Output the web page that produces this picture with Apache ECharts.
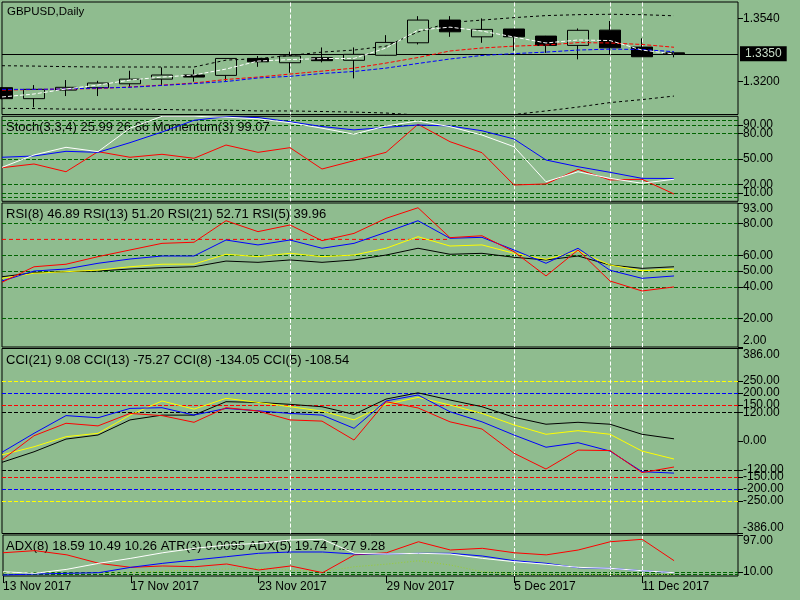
<!DOCTYPE html>
<html>
<head>
<meta charset="utf-8">
<script src="https://cdn.jsdelivr.net/npm/echarts@6/dist/echarts.min.js"></script>
<style>
html, body { margin: 0; padding: 0; background: #8FBC8F; }
#main { width: 800px; height: 600px; }
</style>
</head>
<body>
<div id="main"></div>
<script>
var dates = ['13 Nov 2017','14 Nov 2017','15 Nov 2017','16 Nov 2017','17 Nov 2017','20 Nov 2017',
    '21 Nov 2017','22 Nov 2017','23 Nov 2017','24 Nov 2017','27 Nov 2017','28 Nov 2017',
    '29 Nov 2017','30 Nov 2017','1 Dec 2017','4 Dec 2017','5 Dec 2017','6 Dec 2017',
    '7 Dec 2017','8 Dec 2017','11 Dec 2017','12 Dec 2017','13 Dec 2017','14 Dec 2017'];

// [open, close, low, high]
var candles = [
    [1.3168, 1.3109, 1.3106, 1.3170], [1.3109, 1.3159, 1.3063, 1.3182],
    [1.3155, 1.3170, 1.3123, 1.3209], [1.3168, 1.3193, 1.3123, 1.3205],
    [1.3189, 1.3214, 1.3170, 1.3259], [1.3214, 1.3236, 1.3177, 1.3277],
    [1.3236, 1.3225, 1.3200, 1.3266], [1.3234, 1.3325, 1.3205, 1.3326],
    [1.3325, 1.3307, 1.3280, 1.3338], [1.3302, 1.3338, 1.3248, 1.3361],
    [1.3329, 1.3313, 1.3304, 1.3384], [1.3315, 1.3347, 1.3218, 1.3384],
    [1.3342, 1.3411, 1.3341, 1.3450], [1.3409, 1.3531, 1.3400, 1.3552],
    [1.3531, 1.3468, 1.3441, 1.3552], [1.3441, 1.3481, 1.3409, 1.3540],
    [1.3483, 1.3441, 1.3366, 1.3484], [1.3445, 1.3395, 1.3355, 1.3446],
    [1.3395, 1.3476, 1.3320, 1.3486], [1.3477, 1.3382, 1.3348, 1.3526],
    [1.3386, 1.3334, 1.3333, 1.3433], [1.3355, 1.3350, 1.3331, 1.3357]
];
var bandUpper = [1.3286, 1.3284, 1.3281, 1.3279, 1.3279, 1.3279, 1.3279, 1.3316, 1.3324, 1.3341, 1.3359,
    1.3370, 1.3391, 1.3467, 1.3518, 1.3531, 1.3544, 1.3555, 1.3560, 1.3562, 1.3560, 1.3554];
var bandLower = [1.3057, 1.3056, 1.3053, 1.3053, 1.3053, 1.3051, 1.3048, 1.3048, 1.3043, 1.3043, 1.3040,
    1.3037, 1.3032, 1.3021, 1.3016, 1.3016, 1.3024, 1.3043, 1.3064, 1.3088, 1.3104, 1.3123];
var maRed = [1.3155, 1.3158, 1.3161, 1.3163, 1.3172, 1.3182, 1.3193, 1.3212, 1.3225, 1.3241, 1.3257,
    1.3273, 1.3300, 1.3330, 1.3365, 1.3381, 1.3391, 1.3397, 1.3410, 1.3408, 1.3400, 1.3385];
var maBlue = [1.3159, 1.3159, 1.3161, 1.3166, 1.3170, 1.3180, 1.3190, 1.3201, 1.3220, 1.3229, 1.3244,
    1.3255, 1.3273, 1.3298, 1.3322, 1.3341, 1.3351, 1.3359, 1.3370, 1.3375, 1.3373, 1.3361];
var maWhite = [1.3118, 1.3134, 1.3161, 1.3182, 1.3209, 1.3225, 1.3236, 1.3268, 1.3311, 1.3319, 1.3324,
    1.3325, 1.3381, 1.3477, 1.3493, 1.3472, 1.3440, 1.3408, 1.3424, 1.3421, 1.3370, 1.3349];

var stochMain = [40, 54.5, 63.5, 58.4, 86, 100, 100, 99, 97, 92.5, 86, 79, 88.6, 94.5, 87.8, 78, 64.2, 23, 34.8, 27, 21.2, 25.99];
var stochSignal = [51.8, 53.3, 58.8, 57.6, 69, 81.5, 95.3, 99.5, 98.5, 93.6, 88, 84, 87, 89.8, 88.6, 83, 73.3, 48.6, 40.7, 34.1, 27, 26.86];
var momentum = [39.5, 43.9, 34.8, 58.4, 51.8, 55.3, 50.6, 66.2, 57.6, 63.1, 38, 47.8, 57.6, 90.6, 70.1, 57.2, 19.2, 20.4, 37.6, 25.1, 25.9, 8.6];

var rsi5 = [42.9, 52.7, 54.3, 59.1, 63.3, 67.5, 68.2, 81.8, 74.9, 79.1, 69.2, 73.8, 83.3, 90, 71.1, 72.3, 62.2, 46.9, 63.3, 43.7, 37.4, 39.96];
var rsi8 = [43.7, 50, 51.3, 54.9, 57.6, 59.5, 59.5, 69.6, 66.5, 69.6, 64.4, 67.5, 74.5, 81.8, 70.7, 71.3, 63.3, 54.9, 64.4, 50.5, 45.4, 46.89];
var rsi13 = [45.4, 48.6, 49.6, 50.6, 52.7, 54.3, 54.4, 60.6, 59.1, 61.2, 59.1, 60.1, 64.4, 71.7, 65.8, 66.5, 61.2, 57.4, 62.7, 53.8, 50.2, 51.2];
var rsi21 = [46.4, 48.9, 49.6, 50, 51.3, 52.1, 52.7, 56.3, 55.5, 57, 55.5, 57, 60.1, 64.4, 60.6, 61.2, 58.7, 57, 59.5, 53.8, 51.7, 52.71];
// red dashed reference at 70, drawn from bar 0 to bar 14
var rsiRef = [70, 70, 70, 70, 70, 70, 70, 70, 70, 70, 70, 70, 70, 70, 70];

var cci21 = [-89, -45, 8, 25, 88, 108, 108, 164, 161, 153, 143, 111, 175, 201, 171, 143, 99, 70, 78, 70, 28, 9.08];
var cci13 = [-58, -24, 18, 32, 108, 167, 133, 178, 161, 143, 125, 88, 153, 182, 150, 115, 67, 28, 43, 28, -42, -75.27];
var cci8 = [-47, 32, 106, 97, 136, 139, 108, 136, 126, 115, 108, 53, 167, 192, 122, 80, 25, -26, -7, -42, -128, -134.05];
var cci5 = [-79, 22, 74, 63, 115, 106, 78, 139, 125, 88, 83, 4, 164, 138, 80, 50, -51, -117, -38, -40, -132, -108.54];

var adxRed = [55, 60, 50, 30, 20.5, 23.7, 22, 28.4, 14.2, 23.7, 7.8, 50, 55, 81, 61.5, 65.5, 55, 50, 61.5, 81, 86.8, 36.2];
var adxBlue = [2.4, 4.7, 6.3, 7.8, 20.5, 30, 37.9, 45.7, 53.7, 56.8, 56.8, 52, 52, 53.7, 53.7, 47.3, 36.2, 30, 19.6, 18.2, 12.5, 7.8];
var adxWhite = [10, 6.3, 15.8, 30, 41.8, 55, 65.5, 73.3, 77.3, 85.2, 86.8, 53.7, 52, 53.7, 52, 41.8, 33.8, 27.7, 20.5, 18.2, 12.5, 7.8];
var atrLine = [7.8, 7, 6.5, 6.3, 8, 11, 14.2, 16.5, 18.2, 14, 10, 22, 28, 36, 26, 10, 5, 4, 4, 4, 4, 4];

var mainTicks = [1.3200, 1.3540];
var stochTicks = [5, 10, 20, 50, 80, 90, 95];
var rsiTicks = [2, 20, 40, 50, 60, 80, 93];
var cciTicks = [-386, -250, -200, -150, -120, 0, 120, 150, 200, 250, 386];
var adxTicks = [5, 10, 97];
var vLines = [9, 16, 19, 20];
var lastPrice = 1.3350;

var FONT = '"Liberation Sans", Arial, sans-serif';
var DASH = [4, 2];

var panes = [
    {top: 2, height: 112.5},
    {top: 116.3, height: 85},
    {top: 203, height: 144},
    {top: 348.5, height: 185},
    {top: 535, height: 41}
];

function yAx(i, min, max, ticks, digits, alignMin, alignMax) {
    return {
        type: 'value', gridIndex: i, position: 'right', min: min, max: max,
        splitLine: {show: false},
        axisLine: {show: false},
        axisTick: {show: true, length: 5, customValues: ticks, lineStyle: {color: '#000'}},
        axisLabel: {
            customValues: ticks, margin: 5, color: '#000', fontSize: 12, fontFamily: FONT,
            hideOverlap: false,
            verticalAlignMinLabel: alignMin, verticalAlignMaxLabel: alignMax,
            formatter: function (v) { return v.toFixed(digits); }
        }
    };
}

function levels(list) {
    return list.map(function (l) {
        return {yAxis: l[0], lineStyle: {color: l[1], type: DASH, width: 1}};
    });
}

function marks(extra) {
    var data = vLines.map(function (i) {
        return {xAxis: i, lineStyle: {color: '#fff', type: DASH, width: 1}};
    });
    return {silent: true, symbol: ['none', 'none'], label: {show: false}, z: 1, precision: 4,
        data: (extra || []).concat(data)};
}

function line(name, i, data, color, type, ml) {
    var s = {
        name: name, type: 'line', xAxisIndex: i, yAxisIndex: i, data: data,
        symbol: 'none', showSymbol: false, lineStyle: {color: color, width: 1, type: type || 'solid'}
    };
    if (ml) s.markLine = ml;
    return s;
}

var G = '#006400';

var myChart = echarts.init(document.getElementById('main'));

var priceLine = {
    yAxis: lastPrice,
    lineStyle: {color: '#000', type: 'solid', width: 1},
    label: {show: true, position: 'end', distance: 2, formatter: lastPrice.toFixed(4),
        backgroundColor: '#000', color: '#C8DCC8', padding: [2, 5, 1, 5],
        fontSize: 12, fontFamily: FONT}
};

var option = {
    animation: false,
    backgroundColor: '#8FBC8F',
    grid: panes.map(function (p) {
        return {left: 2, right: 62, top: p.top, height: p.height, show: true,
            borderColor: '#000', borderWidth: 1, backgroundColor: 'transparent'};
    }),
    xAxis: panes.map(function (p, i) {
        return {
            type: 'category', gridIndex: i, data: dates, boundaryGap: false,
            axisLine: {show: false},
            splitLine: {show: false},
            axisTick: {show: i === 4, interval: 3, length: 7, lineStyle: {color: '#000'}},
            axisLabel: {show: i === 4, interval: 3, align: 'left', margin: 5,
                color: '#000', fontSize: 12, fontFamily: FONT}
        };
    }),
    yAxis: [
        yAx(0, 1.3024, 1.3628, mainTicks, 4),
        yAx(1, 0, 100, stochTicks, 2),
        yAx(2, 2, 93, rsiTicks, 2, 'bottom', 'top'),
        yAx(3, -386, 386, cciTicks, 2, 'bottom', 'top'),
        yAx(4, 0, 97, adxTicks, 2, null, 'top')
    ],
    graphic: [
        {type: 'text', x: 7, y: 12, style: {text: 'GBPUSD,Daily', fill: '#000', fontSize: 11.5, fontFamily: FONT, verticalAlign: 'middle'}},
        {type: 'text', x: 6, y: 127.5, style: {text: 'Stoch(3,3,4) 25.99 26.86 Momentum(3) 99.07', fill: '#000', fontSize: 13, fontFamily: FONT, verticalAlign: 'middle'}},
        {type: 'text', x: 6, y: 214.5, style: {text: 'RSI(8) 46.89 RSI(13) 51.20 RSI(21) 52.71 RSI(5) 39.96', fill: '#000', fontSize: 13, fontFamily: FONT, verticalAlign: 'middle'}},
        {type: 'text', x: 6, y: 360, style: {text: 'CCI(21) 9.08 CCI(13) -75.27 CCI(8) -134.05 CCI(5) -108.54', fill: '#000', fontSize: 13, fontFamily: FONT, verticalAlign: 'middle'}},
        {type: 'text', x: 6, y: 546, style: {text: 'ADX(8) 18.59 10.49 10.26 ATR(3) 0.0095 ADX(5) 19.74 7.27 9.28', fill: '#000', fontSize: 13, fontFamily: FONT, verticalAlign: 'middle'}}
    ],
    series: [
        {
            name: 'GBPUSD', type: 'candlestick', xAxisIndex: 0, yAxisIndex: 0, data: candles,
            barWidth: 22, clip: true,
            itemStyle: {color: '#8FBC8F', color0: '#000', borderColor: '#000', borderColor0: '#000', borderWidth: 1}
        },
        line('Upper', 0, bandUpper, '#000', [3, 3], marks([priceLine])),
        line('Lower', 0, bandLower, '#000', [3, 3]),
        line('MA red', 0, maRed, '#f00', DASH),
        line('MA blue', 0, maBlue, '#00f', DASH),
        line('MA white', 0, maWhite, '#fff', DASH),

        line('Momentum', 1, momentum, '#f00', 'solid',
            marks(levels([[95, G], [90, G], [80, G], [50, G], [20, G], [10, G], [5, G]]))),
        line('Signal', 1, stochSignal, '#00f'),
        line('Stoch', 1, stochMain, '#fff'),

        line('RSI(21)', 2, rsi21, '#000', 'solid',
            marks(levels([[80, G], [60, G], [50, G], [40, G], [20, G]]))),
        line('RSI ref', 2, rsiRef, '#ff0000', [4, 3]),
        line('RSI(13)', 2, rsi13, '#ff0'),
        line('RSI(8)', 2, rsi8, '#00f'),
        line('RSI(5)', 2, rsi5, '#f00'),

        line('CCI(21)', 3, cci21, '#000', 'solid',
            marks(levels([[250, '#ff0'], [200, '#00f'], [150, '#f00'], [120, '#000'],
                [-120, '#000'], [-150, '#f00'], [-200, '#00f'], [-250, '#ff0']]))),
        line('CCI(13)', 3, cci13, '#ff0'),
        line('CCI(8)', 3, cci8, '#00f'),
        line('CCI(5)', 3, cci5, '#f00'),

        line('ATR', 4, atrLine, '#9ACD32', [1, 2], marks(levels([[10, G], [5, G]]))),
        line('ADX red', 4, adxRed, '#f00'),
        line('ADX blue', 4, adxBlue, '#00f'),
        line('ADX white', 4, adxWhite, '#fff')
    ]
};
myChart.setOption(option);
</script>
</body>
</html>
